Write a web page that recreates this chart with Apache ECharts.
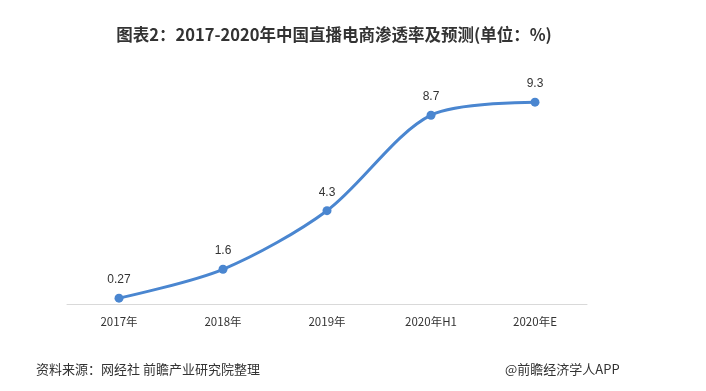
<!DOCTYPE html>
<html><head><meta charset="utf-8">
<script src="https://cdn.jsdelivr.net/npm/echarts@6/dist/echarts.min.js"></script>
<style>html,body{margin:0;padding:0;background:#fff}#c{width:706px;height:391px}</style>
</head><body><div id="c"></div>
<script>
const categories = ['2017年', '2018年', '2019年', '2020年H1', '2020年E'];
const values = [0.27, 1.6, 4.3, 8.7, 9.3];
const labels = ['0.27', '1.6', '4.3', '8.7', '9.3'];

const chart = echarts.init(document.getElementById('c'));
chart.setOption({
  animation: false,
  backgroundColor: '#fff',
  title: [
    {text: '图表2：2017-2020年中国直播电商渗透率及预测(单位：%)', left: 329, top: 21, textAlign: 'center',
     textStyle: {fontSize: 16.5, fontWeight: 'bold', color: '#333', fontFamily: 'Noto Sans CJK SC'}},
    {text: '资料来源：网经社 前瞻产业研究院整理', left: 31, top: 358,
     textStyle: {fontSize: 13, fontWeight: 'normal', color: '#333', fontFamily: 'Noto Sans CJK SC'}},
    {text: '@前瞻经济学人APP', left: 500, top: 358,
     textStyle: {fontSize: 13, fontWeight: 'normal', color: '#333', fontFamily: 'Noto Sans CJK SC'}}
  ],
  grid: {left: 67, right: 119, top: 87, bottom: 87},
  xAxis: {
    type: 'category', data: categories, boundaryGap: true,
    axisLine: {lineStyle: {color: '#d9d9d9'}}, axisTick: {show: false},
    axisLabel: {color: '#333', fontSize: 11.5, margin: 12, fontFamily: 'Noto Sans CJK SC'}
  },
  yAxis: {type: 'value', min: 0, max: 10, show: false, splitLine: {show: false}},
  series: [{
    type: 'line', data: values, smooth: 0.3,
    symbol: 'circle', symbolSize: 9,
    lineStyle: {color: '#4a86d0', width: 3},
    itemStyle: {color: '#4a86d0'},
    label: {show: true, position: 'top', distance: 8, color: '#333', fontSize: 12,
      formatter: p => labels[p.dataIndex]}
  }]
});
</script></body></html>
